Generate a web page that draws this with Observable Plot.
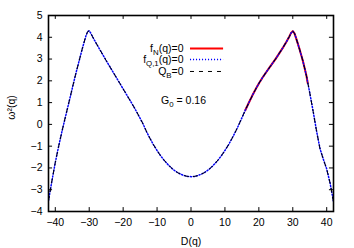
<!DOCTYPE html>
<html><head><meta charset="utf-8">
<script src="https://cdn.jsdelivr.net/npm/d3@7"></script>
<script src="https://cdn.jsdelivr.net/npm/@observablehq/plot@0.6"></script>
<style>
body{margin:0;background:#fff}
svg{font-family:"Liberation Sans",Arial,sans-serif}
</style>
</head><body><div id="chart"></div>
<script>
// Full curve (f_Q,1 = 0 and Q_B = 0 coincide)
const D = [-42,-41,-40,-39,-38,-37,-36,-35,-34,-33,-32,-31,-30.5,-30,-29.5,-29,-28,-27,-26,-25,-24,-23,-22,-21,-20,-19,-18,-17,-16,-15,-14,-13,-12,-11,-10,-9,-8,-7,-6,-5,-4,-3,-2,-1,0,1,2,3,4,5,6,7,8,9,10,11,12,13,14,15,16,17,18,19,20,21,22,23,24,25,26,27,28,29,29.5,30,30.5,31,32,33,34,35,36,37,38,39,40,41,42];
const W = [-3.5,-2.6,-1.75,-1.0,-0.3,0.35,1.0,1.65,2.3,2.9,3.5,4.05,4.25,4.3,4.18,4.02,3.74,3.47,3.2,2.93,2.67,2.41,2.15,1.89,1.63,1.37,1.11,0.85,0.57,0.28,-0.02,-0.37,-0.67,-0.95,-1.2,-1.43,-1.63,-1.81,-1.97,-2.1,-2.21,-2.29,-2.35,-2.39,-2.4,-2.39,-2.35,-2.29,-2.21,-2.1,-1.97,-1.81,-1.63,-1.43,-1.2,-0.95,-0.67,-0.37,-0.05,0.3,0.65,0.98,1.3,1.6,1.88,2.13,2.36,2.58,2.8,3.02,3.26,3.5,3.76,4.04,4.2,4.28,4.18,3.95,3.45,2.9,2.25,1.45,0.6,-0.3,-1.1,-1.6,-2.05,-2.7,-3.55];
// f_N(q)=0 segment
const Dn = [16,17,18,19,20,21,22,23,24,25,26,27,28,29,29.5,30,30.5,31,32,33,34,34.4];
const Wn = [0.65,0.98,1.3,1.6,1.88,2.13,2.36,2.58,2.8,3.02,3.26,3.5,3.76,4.04,4.2,4.28,4.18,3.95,3.45,2.9,2.25,1.9];
const xTicks = [-40,-30,-20,-10,0,10,20,30,40];
const yTicks = [-4,-3,-2,-1,0,1,2,3,4,5];
const legendLabels = ["f_{N}(q)=0","f_{Q,1}(q)=0","Q_{B}=0"];
const annotation = "G_{0} = 0.16";
const xLabel = "D(q)";
const yLabel = "ω²(q)";

const curve = D.map((d,i)=>({D:d, w:W[i]}));
const curveN = Dn.map((d,i)=>({D:d, w:Wn[i]}));

const legendY = [3.48, 2.98, 2.43];
const legendRows = legendLabels.map((t,i)=>({t, y:legendY[i]}));
const FS = 10.5;
const DOT = "1.1,1.9";

const plot = Plot.plot({
  width: 354, height: 248,
  marginLeft: 48, marginRight: 21, marginTop: 15, marginBottom: 37,
  style: {fontFamily: '"Liberation Sans",Arial,sans-serif', fontSize: FS+"px", color: "black", background: "white"},
  x: {domain: [-42, 42], label: null},
  y: {domain: [-4, 5], label: null},
  marks: [
    Plot.line(curveN, {x:"D", y:"w", stroke:"#ff0000", strokeWidth:2, clip:true}),
    Plot.line(curve, {x:"D", y:"w", stroke:"#0000ff", strokeWidth:1.5, strokeDasharray:DOT, clip:true}),
    Plot.line(curve, {x:"D", y:"w", stroke:"black", strokeWidth:1, strokeDasharray:"4,5", clip:true}),
    // inward ticks
    Plot.ruleX(xTicks, {x:d=>d, y1:-4, y2:-4+0.18, stroke:"black"}),
    Plot.ruleX(xTicks, {x:d=>d, y1:5, y2:5-0.18, stroke:"black"}),
    Plot.ruleY(yTicks, {y:d=>d, x1:-42, x2:-42+1.2, stroke:"black"}),
    Plot.ruleY(yTicks, {y:d=>d, x1:42, x2:42-1.2, stroke:"black"}),
    Plot.axisX(xTicks, {tickSize:0, tickPadding:7, fontSize:FS, label:null}),
    Plot.axisY(yTicks, {tickSize:0, tickPadding:6, fontSize:FS, label:null}),
    Plot.frame({stroke:"black", strokeWidth:1.6}),
    // legend
    Plot.text(legendRows, {x:-2.2, y:"y", text:"t", textAnchor:"end", fontSize:FS}),
    Plot.ruleY([legendRows[0]], {y:"y", x1:-0.15, x2:9.6, stroke:"#ff0000", strokeWidth:2}),
    Plot.ruleY([legendRows[1]], {y:"y", x1:-0.15, x2:9.6, stroke:"#0000ff", strokeWidth:1.5, strokeDasharray:DOT}),
    Plot.ruleY([legendRows[2]], {y:"y", x1:-0.15, x2:9.6, stroke:"black", strokeWidth:1, strokeDasharray:"4,5"}),
    Plot.text([annotation], {x:-2.2, y:1.1, text:d=>d, textAnchor:"middle", fontSize:FS}),
    // axis titles
    Plot.text([xLabel], {frameAnchor:"bottom", text:d=>d, dy:30, lineAnchor:"middle", fontSize:FS}),
    Plot.text([yLabel], {frameAnchor:"left", text:d=>d, dx:-37, dy:-6, rotate:-90, textAnchor:"middle", lineAnchor:"middle", fontSize:FS})
  ]
});

// render subscripts as tspans
d3.select(plot).selectAll("text").each(function(){
  const el = d3.select(this);
  const s = el.text();
  if (!s.includes("_{")) return;
  el.text("");
  const re = /_\{([^}]*)\}/g;
  let last = 0, m;
  const parts = [];
  while ((m = re.exec(s))) {
    if (m.index > last) parts.push({t:s.slice(last, m.index), sub:false});
    parts.push({t:m[1], sub:true});
    last = re.lastIndex;
  }
  if (last < s.length) parts.push({t:s.slice(last), sub:false});
  let shifted = false;
  parts.forEach(p=>{
    const ts = el.append("tspan").text(p.t);
    if (p.sub && !shifted) { ts.attr("dy", 3).attr("font-size", FS*0.75); shifted = true; }
    else if (p.sub) { ts.attr("font-size", FS*0.75); }
    else if (shifted) { ts.attr("dy", -3); shifted = false; }
  });
});

document.getElementById("chart").append(plot);
</script>
</body></html>
